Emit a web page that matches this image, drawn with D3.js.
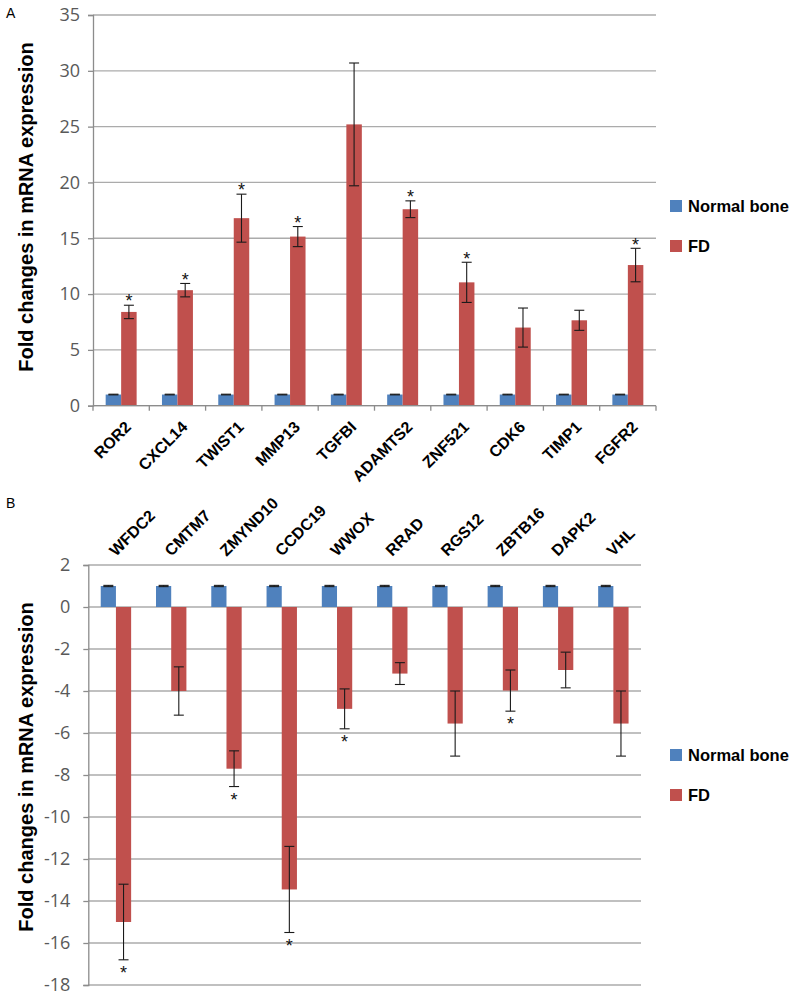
<!DOCTYPE html>
<html><head><meta charset="utf-8">
<script src="https://cdn.jsdelivr.net/npm/d3@7"></script>
<style>
body{margin:0;background:#fff;}
svg{display:block;}
</style></head>
<body>
<svg id="c" width="796" height="997"></svg>
<script>
// ---- Panel A data ----
const genesA = ["ROR2","CXCL14","TWIST1","MMP13","TGFBI","ADAMTS2","ZNF521","CDK6","TIMP1","FGFR2"];
const normalA = [1,1,1,1,1,1,1,1,1,1];
const normalErrA = [0.03,0.03,0.03,0.03,0.03,0.03,0.03,0.03,0.03,0.03];
const fdA = [8.4,10.35,16.8,15.15,25.2,17.6,11.05,7.0,7.65,12.6];
const fdErrA = [0.6,0.6,2.15,0.9,5.5,0.75,1.8,1.75,0.9,1.5];
const sigA = [true,true,true,true,false,true,true,false,false,true];
const ticksA = [0,5,10,15,20,25,30,35];

// ---- Panel B data ----
const genesB = ["WFDC2","CMTM7","ZMYND10","CCDC19","WWOX","RRAD","RGS12","ZBTB16","DAPK2","VHL"];
const normalB = [1,1,1,1,1,1,1,1,1,1];
const normalErrB = [0.03,0.03,0.03,0.03,0.03,0.03,0.03,0.03,0.03,0.03];
const fdB = [-15.0,-4.0,-7.7,-13.45,-4.85,-3.17,-5.55,-3.98,-3.0,-5.55];
const fdErrB = [1.8,1.15,0.85,2.05,0.95,0.52,1.55,0.98,0.85,1.55];
const sigB = [true,false,true,true,true,false,false,true,false,false];
const ticksB = [2,0,-2,-4,-6,-8,-10,-12,-14,-16,-18];

const seriesNames = ["Normal bone","FD"];
const colors = {"Normal bone":"#4F81BD","FD":"#C0504D"};
const yTitle = "Fold changes in mRNA expression";

const svg = d3.select("#c");
const tickFont = "'Open Sans', 'Noto Sans', sans-serif";
const boldFont = "'Liberation Sans', Arial, sans-serif";

function panel(opts){
  const {genes, normal, normalErr, fd, fdErr, sig, ticks, domain, x0, x1, yTop, yBot, labelsTop, legendY, panelLabel, panelLabelY, titleCenter} = opts;
  const g = svg.append("g");
  const x = d3.scaleBand().domain(genes).range([x0, x1]).paddingInner(0.45).paddingOuter(0.225);
  const xs = d3.scaleBand().domain(seriesNames).range([0, x.bandwidth()]).padding(0);
  const y = d3.scaleLinear().domain(domain).range([yBot, yTop]);

  // gridlines
  g.append("g").selectAll("line").data(ticks).join("line")
    .attr("x1", x0).attr("x2", x1)
    .attr("y1", d => y(d)).attr("y2", d => y(d))
    .attr("stroke", "#ababab").attr("stroke-width", 1.3);

  // y axis
  const ya = g.append("g").attr("transform", `translate(${x0},0)`)
    .call(d3.axisLeft(y).tickValues(ticks).tickSize(5).tickPadding(labelsTop ? 13 : 8).tickFormat(d => d < 0 ? "-" + Math.abs(d) : d));
  ya.select(".domain").attr("stroke", "#8c8c8c").attr("stroke-width", 1.3);
  ya.selectAll(".tick line").attr("stroke", "#8c8c8c").attr("stroke-width", 1.3);
  ya.selectAll(".tick text").attr("font-family", tickFont).attr("font-size", 18).attr("fill", "#595959");

  // bars
  const rows = genes.map((gname, i) => ({gene: gname, i}));
  const seriesData = [
    {name: "Normal bone", vals: normal, errs: normalErr},
    {name: "FD", vals: fd, errs: fdErr}
  ];
  seriesData.forEach(s => {
    g.append("g").selectAll("rect").data(rows).join("rect")
      .attr("x", d => x(d.gene) + xs(s.name))
      .attr("width", xs.bandwidth())
      .attr("y", d => y(Math.max(0, s.vals[d.i])))
      .attr("height", d => Math.abs(y(s.vals[d.i]) - y(0)))
      .attr("fill", colors[s.name]);
  });

  // x axis (panel A only)
  if (!labelsTop) {
    const xa = g.append("g");
    xa.append("line").attr("x1", x0).attr("x2", x1).attr("y1", y(0)).attr("y2", y(0))
      .attr("stroke", "#8c8c8c").attr("stroke-width", 1.3);
    const bounds = genes.map(d => x(d) - x.step() * x.paddingInner() / 2).concat([x1]);
    xa.selectAll("line.t").data(bounds).join("line").attr("class", "t")
      .attr("x1", d => d).attr("x2", d => d).attr("y1", y(0)).attr("y2", y(0) + 5)
      .attr("stroke", "#8c8c8c").attr("stroke-width", 1.3);
  }

  // error bars
  const cap = 5;
  seriesData.forEach(s => {
    const eg = g.append("g").attr("stroke", "#1a1a1a").attr("stroke-width", 1.1);
    rows.forEach(d => {
      const cx = x(d.gene) + xs(s.name) + xs.bandwidth() / 2;
      const v = s.vals[d.i], e = s.errs[d.i];
      const ya1 = y(v + e), ya2 = y(v - e);
      eg.append("line").attr("x1", cx).attr("x2", cx).attr("y1", ya1).attr("y2", ya2);
      eg.append("line").attr("x1", cx - cap).attr("x2", cx + cap).attr("y1", ya1).attr("y2", ya1);
      eg.append("line").attr("x1", cx - cap).attr("x2", cx + cap).attr("y1", ya2).attr("y2", ya2);
    });
  });

  // significance stars
  const fs = 18;
  g.append("g").selectAll("text").data(rows.filter(d => sig[d.i])).join("text")
    .attr("x", d => x(d.gene) + xs("FD") + xs.bandwidth() / 2)
    .attr("y", d => {
      const v = fd[d.i], e = fdErr[d.i];
      const c = v >= 0 ? y(v + e) - 8 : y(v - e) + 9;
      return c + 0.57 * fs;
    })
    .attr("text-anchor", "middle").attr("font-family", boldFont).attr("font-size", fs).attr("fill", "#111")
    .text("*");

  // category labels
  g.append("g").selectAll("text").data(genes).join("text")
    .attr("transform", d => {
      const cx = x(d) + x.bandwidth() / 2;
      return labelsTop ? `translate(${cx},557) rotate(-45)` : `translate(${cx + 11},428) rotate(-45)`;
    })
    .attr("text-anchor", labelsTop ? "start" : "end")
    .attr("font-family", boldFont).attr("font-weight", "bold").attr("font-size", 16).attr("fill", "#000")
    .text(d => d);

  // y title
  g.append("text")
    .attr("transform", `translate(33,${titleCenter}) rotate(-90)`)
    .attr("text-anchor", "middle")
    .attr("font-family", boldFont).attr("font-weight", "bold").attr("font-size", 20).attr("fill", "#000")
    .text(yTitle);

  // legend
  const lg = g.append("g");
  seriesNames.forEach((nm, k) => {
    const ly = legendY + k * 40;
    lg.append("rect").attr("x", 670).attr("y", ly).attr("width", 12).attr("height", 12).attr("fill", colors[nm]);
    lg.append("text").attr("x", 688).attr("y", ly + 12)
      .attr("font-family", boldFont).attr("font-weight", "bold").attr("font-size", 16.5).attr("fill", "#000")
      .text(nm);
  });

  // panel label
  svg.append("text").attr("x", 6).attr("y", panelLabelY)
    .attr("font-family", boldFont).attr("font-size", 14).attr("fill", "#000").text(panelLabel);
}

panel({genes: genesA, normal: normalA, normalErr: normalErrA, fd: fdA, fdErr: fdErrA, sig: sigA,
  ticks: ticksA, domain: [0, 35], x0: 93, x1: 656, yTop: 15, yBot: 405.7, labelsTop: false,
  legendY: 200, panelLabel: "A", panelLabelY: 18, titleCenter: 207});

panel({genes: genesB, normal: normalB, normalErr: normalErrB, fd: fdB, fdErr: fdErrB, sig: sigB,
  ticks: ticksB, domain: [-18, 2], x0: 88.3, x1: 641, yTop: 565, yBot: 985, labelsTop: true,
  legendY: 749, panelLabel: "B", panelLabelY: 508, titleCenter: 767});
</script>
</body></html>
